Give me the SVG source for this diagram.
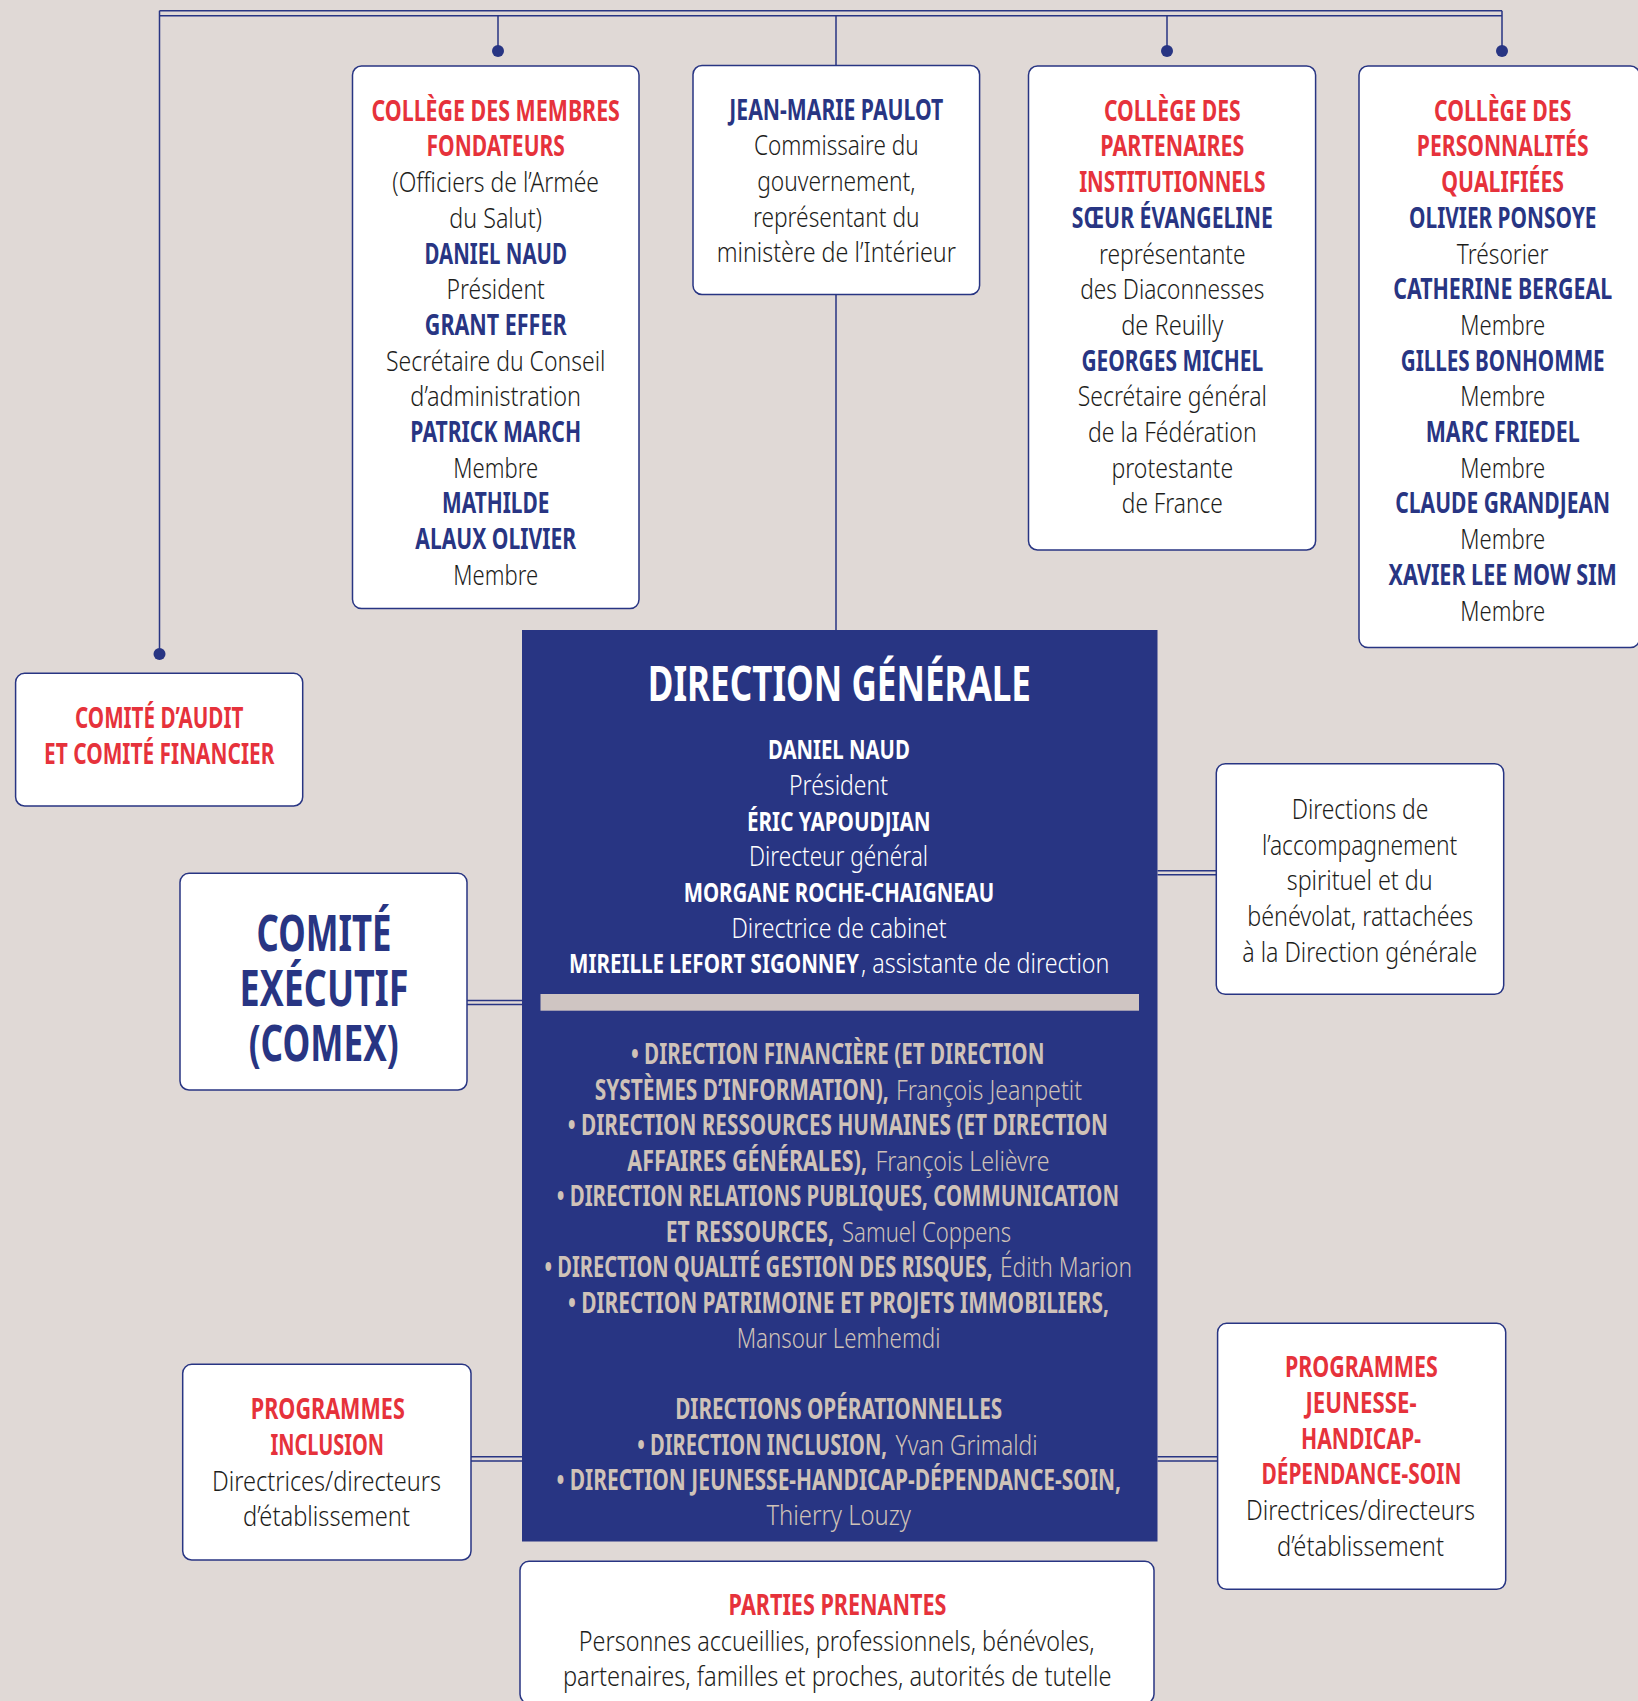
<svg xmlns="http://www.w3.org/2000/svg" width="1638" height="1701" viewBox="0 0 1638 1701">
<style>
.t{font-family:"Noto Sans","Liberation Sans",Arial,sans-serif;font-stretch:extra-condensed;font-size:28px;font-weight:300;text-anchor:middle}
.s{text-anchor:start}
.b{font-weight:bold;font-size:29px}
.r{font-weight:300;font-size:28px}
.red{fill:#e6323b}
.blue{fill:#283583}
.blk{fill:#1d1d1b}
.wh{fill:#ffffff}
.tan{fill:#cfc2b8}
.box{fill:#ffffff;stroke:#283583;stroke-width:1.5}
.ln{stroke:#283583;stroke-width:1.5;fill:none}
.dot{fill:#283583}
</style>
<rect x="0" y="0" width="1638" height="1701" fill="#e0d9d6"/>

<g id="connectors">
  <path class="ln" d="M159.5,10.8 H1502 M159.5,15.8 H1502 M159.5,10.8 V654 M1502,10.8 V51 M498,15.8 V51 M1167,15.8 V51 M836,15.8 V65.5 M836,294.5 V630"/>
  <circle class="dot" cx="159.5" cy="654" r="6"/>
  <circle class="dot" cx="498" cy="51" r="6"/>
  <circle class="dot" cx="1167" cy="51" r="6"/>
  <circle class="dot" cx="1502" cy="51" r="6"/>
  <path class="ln" d="M467,1000.5 H522 M467,1004.5 H522"/>
  <path class="ln" d="M1157.5,870.7 H1216.3 M1157.5,874.7 H1216.3"/>
  <path class="ln" d="M471,1456.7 H522 M471,1460.9 H522"/>
  <path class="ln" d="M1157.5,1456.7 H1217.6 M1157.5,1460.9 H1217.6"/>
</g>

<g id="college-fondateurs">
  <rect class="box" x="352.5" y="66" width="286.5" height="542.6" rx="9"/>
  <text class="t b red" x="495.7" y="120.7" textLength="248.4" lengthAdjust="spacingAndGlyphs">COLLÈGE DES MEMBRES</text>
  <text class="t b red" x="495.7" y="156.4" textLength="138.3" lengthAdjust="spacingAndGlyphs">FONDATEURS</text>
  <text class="t r blk" x="495.7" y="192.1" textLength="206.7" lengthAdjust="spacingAndGlyphs">(Officiers de l’Armée</text>
  <text class="t r blk" x="495.7" y="227.8" textLength="92.7" lengthAdjust="spacingAndGlyphs">du Salut)</text>
  <text class="t b blue" x="495.7" y="263.5" textLength="142.3" lengthAdjust="spacingAndGlyphs">DANIEL NAUD</text>
  <text class="t r blk" x="495.7" y="299.2" textLength="98.3" lengthAdjust="spacingAndGlyphs">Président</text>
  <text class="t b blue" x="495.7" y="334.9" textLength="141.7" lengthAdjust="spacingAndGlyphs">GRANT EFFER</text>
  <text class="t r blk" x="495.7" y="370.6" textLength="219.3" lengthAdjust="spacingAndGlyphs">Secrétaire du Conseil</text>
  <text class="t r blk" x="495.7" y="406.3" textLength="170.7" lengthAdjust="spacingAndGlyphs">d’administration</text>
  <text class="t b blue" x="495.7" y="442" textLength="170.7" lengthAdjust="spacingAndGlyphs">PATRICK MARCH</text>
  <text class="t r blk" x="495.7" y="477.7" textLength="84.7" lengthAdjust="spacingAndGlyphs">Membre</text>
  <text class="t b blue" x="495.7" y="513.4" textLength="107.3" lengthAdjust="spacingAndGlyphs">MATHILDE</text>
  <text class="t b blue" x="495.7" y="549.1" textLength="160.7" lengthAdjust="spacingAndGlyphs">ALAUX OLIVIER</text>
  <text class="t r blk" x="495.7" y="584.8" textLength="84.7" lengthAdjust="spacingAndGlyphs">Membre</text>
</g>

<g id="commissaire">
  <rect class="box" x="693" y="65.5" width="286.6" height="229" rx="9"/>
  <text class="t b blue" x="836.3" y="119.5" textLength="214" lengthAdjust="spacingAndGlyphs">JEAN-MARIE PAULOT</text>
  <text class="t r blk" x="836.3" y="155.2" textLength="164.7" lengthAdjust="spacingAndGlyphs">Commissaire du</text>
  <text class="t r blk" x="836.3" y="190.9" textLength="158.3" lengthAdjust="spacingAndGlyphs">gouvernement,</text>
  <text class="t r blk" x="836.3" y="226.6" textLength="166.7" lengthAdjust="spacingAndGlyphs">représentant du</text>
  <text class="t r blk" x="836.3" y="262.3" textLength="239.3" lengthAdjust="spacingAndGlyphs">ministère de l’Intérieur</text>
</g>

<g id="college-partenaires">
  <rect class="box" x="1028.5" y="66" width="287.1" height="484" rx="9"/>
  <text class="t b red" x="1172.3" y="120.7" textLength="136.7" lengthAdjust="spacingAndGlyphs">COLLÈGE DES</text>
  <text class="t b red" x="1172.3" y="156.4" textLength="144" lengthAdjust="spacingAndGlyphs">PARTENAIRES</text>
  <text class="t b red" x="1172.3" y="192.1" textLength="186.3" lengthAdjust="spacingAndGlyphs">INSTITUTIONNELS</text>
  <text class="t b blue" x="1172.3" y="227.8" textLength="201" lengthAdjust="spacingAndGlyphs">SŒUR ÉVANGELINE</text>
  <text class="t r blk" x="1172.3" y="263.5" textLength="146.7" lengthAdjust="spacingAndGlyphs">représentante</text>
  <text class="t r blk" x="1172.3" y="299.2" textLength="184" lengthAdjust="spacingAndGlyphs">des Diaconnesses</text>
  <text class="t r blk" x="1172.3" y="334.9" textLength="102.3" lengthAdjust="spacingAndGlyphs">de Reuilly</text>
  <text class="t b blue" x="1172.3" y="370.6" textLength="181.7" lengthAdjust="spacingAndGlyphs">GEORGES MICHEL</text>
  <text class="t r blk" x="1172.3" y="406.3" textLength="189" lengthAdjust="spacingAndGlyphs">Secrétaire général</text>
  <text class="t r blk" x="1172.3" y="442" textLength="168.7" lengthAdjust="spacingAndGlyphs">de la Fédération</text>
  <text class="t r blk" x="1172.3" y="477.7" textLength="121.7" lengthAdjust="spacingAndGlyphs">protestante</text>
  <text class="t r blk" x="1172.3" y="513.4" textLength="101" lengthAdjust="spacingAndGlyphs">de France</text>
</g>

<g id="college-personnalites">
  <rect class="box" x="1359" y="66" width="280.5" height="581.6" rx="9"/>
  <text class="t b red" x="1502.7" y="120.7" textLength="137.3" lengthAdjust="spacingAndGlyphs">COLLÈGE DES</text>
  <text class="t b red" x="1502.7" y="156.4" textLength="171.7" lengthAdjust="spacingAndGlyphs">PERSONNALITÉS</text>
  <text class="t b red" x="1502.7" y="192.1" textLength="122.7" lengthAdjust="spacingAndGlyphs">QUALIFIÉES</text>
  <text class="t b blue" x="1502.7" y="227.8" textLength="187.3" lengthAdjust="spacingAndGlyphs">OLIVIER PONSOYE</text>
  <text class="t r blk" x="1502.7" y="263.5" textLength="91.7" lengthAdjust="spacingAndGlyphs">Trésorier</text>
  <text class="t b blue" x="1502.7" y="299.2" textLength="219" lengthAdjust="spacingAndGlyphs">CATHERINE BERGEAL</text>
  <text class="t r blk" x="1502.7" y="334.9" textLength="84.7" lengthAdjust="spacingAndGlyphs">Membre</text>
  <text class="t b blue" x="1502.7" y="370.6" textLength="204" lengthAdjust="spacingAndGlyphs">GILLES BONHOMME</text>
  <text class="t r blk" x="1502.7" y="406.3" textLength="84.7" lengthAdjust="spacingAndGlyphs">Membre</text>
  <text class="t b blue" x="1502.7" y="442" textLength="154" lengthAdjust="spacingAndGlyphs">MARC FRIEDEL</text>
  <text class="t r blk" x="1502.7" y="477.7" textLength="84.7" lengthAdjust="spacingAndGlyphs">Membre</text>
  <text class="t b blue" x="1502.7" y="513.4" textLength="214.7" lengthAdjust="spacingAndGlyphs">CLAUDE GRANDJEAN</text>
  <text class="t r blk" x="1502.7" y="549.1" textLength="84.7" lengthAdjust="spacingAndGlyphs">Membre</text>
  <text class="t b blue" x="1502.7" y="584.8" textLength="228.3" lengthAdjust="spacingAndGlyphs">XAVIER LEE MOW SIM</text>
  <text class="t r blk" x="1502.7" y="620.5" textLength="84.7" lengthAdjust="spacingAndGlyphs">Membre</text>
</g>

<g id="comite-audit">
  <rect class="box" x="15.6" y="673.3" width="287.1" height="132.7" rx="9"/>
  <text class="t b red" x="159.2" y="728.3" textLength="168.3" lengthAdjust="spacingAndGlyphs">COMITÉ D’AUDIT</text>
  <text class="t b red" x="159.2" y="764.3" textLength="230.4" lengthAdjust="spacingAndGlyphs">ET COMITÉ FINANCIER</text>
</g>

<g id="comex">
  <rect class="box" x="180" y="873.3" width="287" height="216.7" rx="9"/>
  <text class="t blue" style="font-weight:bold;font-size:50px" x="324" y="951" textLength="134.8" lengthAdjust="spacingAndGlyphs">COMITÉ</text>
  <text class="t blue" style="font-weight:bold;font-size:50px" x="324" y="1006" textLength="168.8" lengthAdjust="spacingAndGlyphs">EXÉCUTIF</text>
  <text class="t blue" style="font-weight:bold;font-size:50px" x="323.7" y="1061" textLength="150" lengthAdjust="spacingAndGlyphs">(COMEX)</text>
</g>

<g id="direction-generale">
  <rect x="522" y="630" width="635.5" height="911.5" fill="#283583"/>
  <rect x="540.5" y="994" width="598.5" height="16.7" fill="#cfc5c2"/>
  <text class="t wh" style="font-weight:bold;font-size:49px" x="839.4" y="701" textLength="383.2" lengthAdjust="spacingAndGlyphs">DIRECTION GÉNÉRALE</text>
  <text class="t wh" style="font-weight:bold;font-size:27px" x="838.9" y="759.3" textLength="141.8" lengthAdjust="spacingAndGlyphs">DANIEL NAUD</text>
  <text class="t wh" style="font-size:27px" x="838.5" y="795" textLength="99" lengthAdjust="spacingAndGlyphs">Président</text>
  <text class="t wh" style="font-weight:bold;font-size:27px" x="838.8" y="830.7" textLength="183.6" lengthAdjust="spacingAndGlyphs">ÉRIC YAPOUDJIAN</text>
  <text class="t wh" style="font-size:27px" x="838.5" y="866.4" textLength="179" lengthAdjust="spacingAndGlyphs">Directeur général</text>
  <text class="t wh" style="font-weight:bold;font-size:27px" x="839" y="902.1" textLength="310.6" lengthAdjust="spacingAndGlyphs">MORGANE ROCHE-CHAIGNEAU</text>
  <text class="t wh" style="font-size:27px" x="839" y="937.8" textLength="215" lengthAdjust="spacingAndGlyphs">Directrice de cabinet</text>
  <text class="t s wh" style="font-weight:bold;font-size:27px" x="569" y="973.3" textLength="290" lengthAdjust="spacingAndGlyphs">MIREILLE LEFORT SIGONNEY</text>
  <text class="t s wh" style="font-size:27px" x="861" y="973.3" textLength="248.4" lengthAdjust="spacingAndGlyphs">, assistante de direction</text>

  <text class="t b tan" x="837.7" y="1064" textLength="413.5" lengthAdjust="spacingAndGlyphs">• DIRECTION FINANCIÈRE (ET DIRECTION</text>
  <text class="t s b tan" x="594.7" y="1099.5" textLength="294" lengthAdjust="spacingAndGlyphs">SYSTÈMES D’INFORMATION),</text>
  <text class="t s tan" x="896" y="1099.5" textLength="186" lengthAdjust="spacingAndGlyphs">François Jeanpetit</text>
  <text class="t b tan" x="837.8" y="1135" textLength="540" lengthAdjust="spacingAndGlyphs">• DIRECTION RESSOURCES HUMAINES (ET DIRECTION</text>
  <text class="t s b tan" x="627.3" y="1170.7" textLength="239.7" lengthAdjust="spacingAndGlyphs">AFFAIRES GÉNÉRALES),</text>
  <text class="t s tan" x="875.5" y="1170.7" textLength="174" lengthAdjust="spacingAndGlyphs">François Lelièvre</text>
  <text class="t b tan" x="837.9" y="1206.2" textLength="562.4" lengthAdjust="spacingAndGlyphs">• DIRECTION RELATIONS PUBLIQUES, COMMUNICATION</text>
  <text class="t s b tan" x="665.7" y="1241.7" textLength="168.3" lengthAdjust="spacingAndGlyphs">ET RESSOURCES,</text>
  <text class="t s tan" x="842" y="1241.7" textLength="169" lengthAdjust="spacingAndGlyphs">Samuel Coppens</text>
  <text class="t s b tan" x="544.5" y="1277.3" textLength="448" lengthAdjust="spacingAndGlyphs">• DIRECTION QUALITÉ GESTION DES RISQUES,</text>
  <text class="t s tan" x="1000" y="1277.3" textLength="132" lengthAdjust="spacingAndGlyphs">Édith Marion</text>
  <text class="t b tan" x="838.4" y="1312.8" textLength="541" lengthAdjust="spacingAndGlyphs">• DIRECTION PATRIMOINE ET PROJETS IMMOBILIERS,</text>
  <text class="t tan" x="838.5" y="1348" textLength="203.7" lengthAdjust="spacingAndGlyphs">Mansour Lemhemdi</text>

  <text class="t b tan" x="838.7" y="1419" textLength="327" lengthAdjust="spacingAndGlyphs">DIRECTIONS OPÉRATIONNELLES</text>
  <text class="t s b tan" x="637.3" y="1454.5" textLength="249.7" lengthAdjust="spacingAndGlyphs">• DIRECTION INCLUSION,</text>
  <text class="t s tan" x="895.5" y="1454.5" textLength="142" lengthAdjust="spacingAndGlyphs">Yvan Grimaldi</text>
  <text class="t b tan" x="838.7" y="1490" textLength="564.6" lengthAdjust="spacingAndGlyphs">• DIRECTION JEUNESSE-HANDICAP-DÉPENDANCE-SOIN,</text>
  <text class="t tan" x="838.7" y="1525.3" textLength="144.6" lengthAdjust="spacingAndGlyphs">Thierry Louzy</text>
</g>

<g id="accompagnement">
  <rect class="box" x="1216.3" y="763.7" width="287.4" height="230.6" rx="9"/>
  <text class="t r blk" x="1360" y="819" textLength="136.7" lengthAdjust="spacingAndGlyphs">Directions de</text>
  <text class="t r blk" x="1359.7" y="854.7" textLength="195.3" lengthAdjust="spacingAndGlyphs">l’accompagnement</text>
  <text class="t r blk" x="1359.7" y="890.4" textLength="146" lengthAdjust="spacingAndGlyphs">spirituel et du</text>
  <text class="t r blk" x="1360.3" y="926.1" textLength="226" lengthAdjust="spacingAndGlyphs">bénévolat, rattachées</text>
  <text class="t r blk" x="1359.8" y="961.8" textLength="235" lengthAdjust="spacingAndGlyphs">à la Direction générale</text>
</g>

<g id="programmes-inclusion">
  <rect class="box" x="182.7" y="1364.3" width="288.3" height="195.7" rx="9"/>
  <text class="t b red" x="327.8" y="1419.3" textLength="154" lengthAdjust="spacingAndGlyphs">PROGRAMMES</text>
  <text class="t b red" x="327.3" y="1455" textLength="113.6" lengthAdjust="spacingAndGlyphs">INCLUSION</text>
  <text class="t r blk" x="326.5" y="1490.7" textLength="229" lengthAdjust="spacingAndGlyphs">Directrices/directeurs</text>
  <text class="t r blk" x="326.5" y="1526.4" textLength="167" lengthAdjust="spacingAndGlyphs">d’établissement</text>
</g>

<g id="programmes-jeunesse">
  <rect class="box" x="1217.6" y="1323.3" width="288.1" height="266" rx="9"/>
  <text class="t b red" x="1361.4" y="1377.3" textLength="153" lengthAdjust="spacingAndGlyphs">PROGRAMMES</text>
  <text class="t b red" x="1361" y="1413" textLength="111" lengthAdjust="spacingAndGlyphs">JEUNESSE-</text>
  <text class="t b red" x="1361" y="1448.7" textLength="120" lengthAdjust="spacingAndGlyphs">HANDICAP-</text>
  <text class="t b red" x="1361.4" y="1484.4" textLength="200" lengthAdjust="spacingAndGlyphs">DÉPENDANCE-SOIN</text>
  <text class="t r blk" x="1360.5" y="1520.1" textLength="229" lengthAdjust="spacingAndGlyphs">Directrices/directeurs</text>
  <text class="t r blk" x="1360.5" y="1555.8" textLength="167" lengthAdjust="spacingAndGlyphs">d’établissement</text>
</g>

<g id="parties-prenantes">
  <rect class="box" x="520" y="1561.3" width="634" height="142" rx="9"/>
  <text class="t b red" x="837.5" y="1615" textLength="217.8" lengthAdjust="spacingAndGlyphs">PARTIES PRENANTES</text>
  <text class="t r blk" x="836.7" y="1650.7" textLength="515.7" lengthAdjust="spacingAndGlyphs">Personnes accueillies, professionnels, bénévoles,</text>
  <text class="t r blk" x="837.3" y="1686.4" textLength="548.7" lengthAdjust="spacingAndGlyphs">partenaires, familles et proches, autorités de tutelle</text>
</g>
</svg>
